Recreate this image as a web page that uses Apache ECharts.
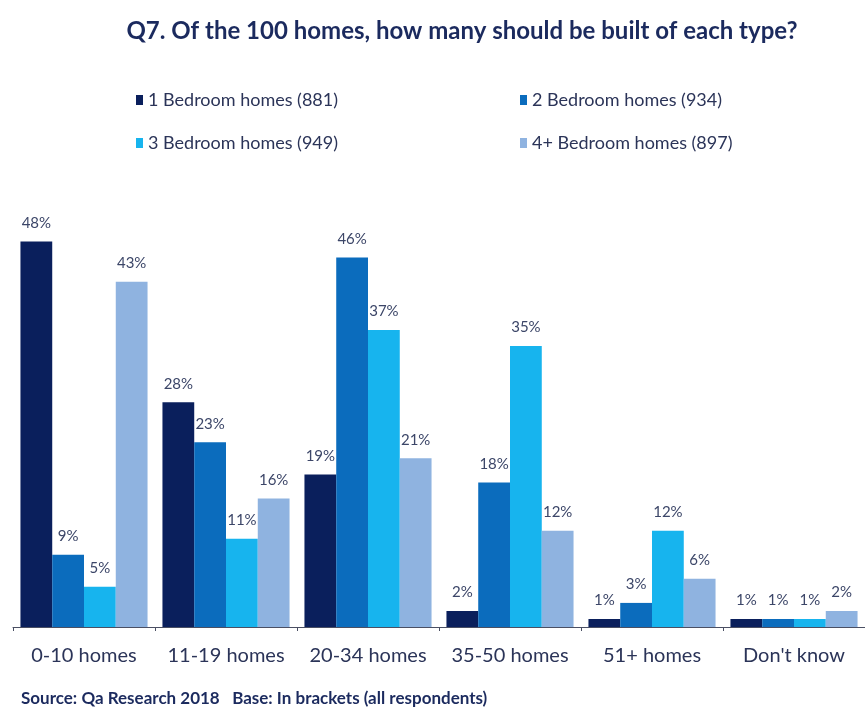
<!DOCTYPE html>
<html>
<head>
<meta charset="utf-8">
<script src="https://cdn.jsdelivr.net/npm/echarts@6/dist/echarts.min.js"></script>
<style>
  html, body { margin: 0; padding: 0; background: #ffffff; }
  #chart { width: 865px; height: 707px; }
</style>
</head>
<body>
<div id="chart"></div>
<script>
// Survey answer bands along the x axis
const categories = ['0-10 homes', '11-19 homes', '20-34 homes', '35-50 homes', '51+ homes', "Don't know"];

// Share of respondents (%) per home type
const oneBed = [48, 28, 19, 2, 1, 1];
const twoBed = [9, 23, 46, 18, 3, 1];
const threeBed = [5, 11, 37, 35, 12, 1];
const fourBed = [43, 16, 21, 12, 6, 2];

const seriesNames = [
  '1 Bedroom homes (881)',
  '2 Bedroom homes (934)',
  '3 Bedroom homes (949)',
  '4+ Bedroom homes (897)'
];

const colors = ['#0a1f5c', '#0b6cbd', '#17b4ee', '#8fb3e0'];

const FONT = 'Lato, "Noto Sans", sans-serif';
const TEXT_DARK = '#2b3458';

const chart = echarts.init(document.getElementById('chart'), null, { renderer: 'canvas' });

function barSeries(name, data, color) {
  return {
    name: name,
    type: 'bar',
    data: data,
    barGap: '0%',
    barCategoryGap: '10.5%',
    itemStyle: { color: color },
    label: {
      show: true,
      position: 'top',
      distance: 11,
      formatter: '{c}%',
      color: '#3c4668',
      fontFamily: FONT,
      fontSize: 15
    }
  };
}

function legendAt(name, left, top) {
  return {
    data: [name],
    left: left,
    top: top,
    icon: 'rect',
    itemWidth: 7,
    itemHeight: 10,
    padding: 0,
    selectedMode: false,
    textStyle: { color: TEXT_DARK, fontFamily: FONT, fontSize: 18 }
  };
}

chart.setOption({
  animation: false,
  title: [
    {
      text: 'Q7. Of the 100 homes, how many should be built of each type?',
      left: 457,
      textAlign: 'center',
      top: 14,
      textStyle: { color: '#1b2a5e', fontFamily: FONT, fontSize: 24, fontWeight: 'bold' }
    },
    {
      text: 'Source: Qa Research 2018   Base: In brackets (all respondents)',
      left: 16,
      top: 685,
      textStyle: { color: '#1b2a5e', fontFamily: FONT, fontSize: 17, fontWeight: 'bold' }
    }
  ],
  legend: [
    legendAt(seriesNames[0], 136, 91),
    legendAt(seriesNames[1], 520, 91),
    legendAt(seriesNames[2], 136, 134),
    legendAt(seriesNames[3], 520, 134)
  ],
  grid: { left: 13, right: -6, top: 225.5, height: 401.5 },
  xAxis: {
    type: 'category',
    data: categories,
    axisLine: { lineStyle: { color: '#4a4f63', width: 1 } },
    axisTick: { show: true, length: 4, lineStyle: { color: '#4a4f63' } },
    axisLabel: { interval: 0, color: TEXT_DARK, fontFamily: FONT, fontSize: 20, margin: 19 }
  },
  yAxis: {
    type: 'value',
    min: 0,
    max: 50,
    show: false,
    splitLine: { show: false }
  },
  series: [
    barSeries(seriesNames[0], oneBed, colors[0]),
    barSeries(seriesNames[1], twoBed, colors[1]),
    barSeries(seriesNames[2], threeBed, colors[2]),
    barSeries(seriesNames[3], fourBed, colors[3])
  ]
});
</script>
</body>
</html>
